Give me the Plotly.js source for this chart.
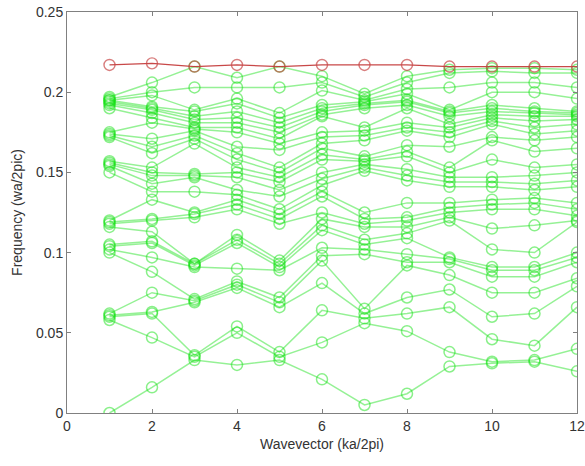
<!DOCTYPE html>
<html>
<head>
<meta charset="utf-8">
<script src="https://cdn.plot.ly/plotly-3.0.1.min.js"></script>
<style>html,body{margin:0;padding:0;background:#fff;}#chart{width:585px;height:466px;}</style>
</head>
<body>
<div id="chart"></div>
<script>
// Wavevector sample points
const kPoints = [1,2,3,4,5,6,7,8,9,10,11,12];

// Eigen-frequencies (sorted) at each wavevector point
const f_k1  = [0,0.058,0.060,0.061,0.062,0.100,0.102,0.104,0.105,0.116,0.118,0.119,0.120,0.150,0.154,0.155,0.156,0.157,0.172,0.173,0.174,0.175,0.190,0.192,0.193,0.194,0.195,0.195,0.196,0.197];
const f_k2  = [0.016,0.047,0.062,0.063,0.075,0.088,0.097,0.106,0.107,0.113,0.120,0.121,0.133,0.138,0.143,0.148,0.150,0.153,0.162,0.166,0.171,0.181,0.184,0.187,0.189,0.190,0.191,0.198,0.200,0.206];
const f_k3  = [0.033,0.035,0.036,0.069,0.070,0.071,0.091,0.092,0.093,0.093,0.122,0.124,0.125,0.138,0.147,0.148,0.149,0.168,0.171,0.173,0.176,0.177,0.178,0.181,0.183,0.185,0.188,0.189,0.203,0.216];
const f_k4  = [0.030,0.050,0.054,0.078,0.080,0.082,0.090,0.106,0.108,0.111,0.127,0.130,0.133,0.136,0.139,0.147,0.150,0.153,0.158,0.162,0.166,0.175,0.178,0.181,0.184,0.188,0.193,0.196,0.203,0.209];
const f_k5  = [0.033,0.035,0.038,0.066,0.069,0.072,0.089,0.091,0.093,0.095,0.118,0.121,0.124,0.127,0.135,0.139,0.144,0.147,0.150,0.153,0.164,0.168,0.171,0.175,0.178,0.181,0.184,0.187,0.203,0.216];
const f_k6  = [0.021,0.044,0.064,0.081,0.095,0.098,0.103,0.114,0.117,0.121,0.125,0.135,0.138,0.142,0.146,0.150,0.158,0.161,0.165,0.168,0.172,0.175,0.185,0.186,0.188,0.190,0.192,0.201,0.206,0.210];
const f_k7  = [0.005,0.056,0.059,0.062,0.065,0.099,0.102,0.105,0.108,0.116,0.118,0.121,0.125,0.151,0.153,0.155,0.157,0.158,0.160,0.170,0.173,0.176,0.178,0.190,0.192,0.193,0.194,0.195,0.197,0.199];
const f_k8  = [0.012,0.051,0.062,0.072,0.092,0.094,0.099,0.109,0.112,0.116,0.120,0.122,0.131,0.145,0.148,0.152,0.160,0.163,0.167,0.176,0.178,0.181,0.190,0.192,0.194,0.195,0.199,0.202,0.206,0.210];
const f_k9  = [0.029,0.038,0.066,0.077,0.086,0.094,0.096,0.097,0.120,0.122,0.125,0.128,0.131,0.141,0.144,0.147,0.150,0.153,0.166,0.172,0.175,0.178,0.180,0.185,0.187,0.188,0.189,0.203,0.212,0.214];
const f_k10 = [0.031,0.032,0.046,0.060,0.075,0.085,0.089,0.091,0.102,0.115,0.127,0.130,0.133,0.141,0.144,0.147,0.158,0.170,0.172,0.180,0.182,0.184,0.186,0.188,0.190,0.192,0.200,0.206,0.213,0.215];
const f_k11 = [0.032,0.033,0.042,0.062,0.075,0.085,0.089,0.091,0.100,0.117,0.127,0.131,0.134,0.139,0.143,0.148,0.153,0.163,0.170,0.174,0.178,0.182,0.185,0.187,0.188,0.190,0.200,0.206,0.212,0.215];
const f_k12 = [0.026,0.040,0.066,0.079,0.084,0.094,0.097,0.100,0.119,0.120,0.123,0.127,0.131,0.141,0.145,0.150,0.155,0.165,0.172,0.176,0.180,0.183,0.185,0.186,0.187,0.188,0.196,0.203,0.212,0.214];

// Highest (red) band
const topBand = [0.217,0.218,0.216,0.217,0.216,0.217,0.217,0.217,0.216,0.216,0.216,0.216];

const columns = [f_k1,f_k2,f_k3,f_k4,f_k5,f_k6,f_k7,f_k8,f_k9,f_k10,f_k11,f_k12];
const nBands = f_k1.length;

const traces = [];
for (let b = 0; b < nBands; b++) {
  traces.push({
    x: kPoints,
    y: columns.map(c => c[b]),
    type: 'scatter',
    mode: 'lines+markers',
    line: {color: 'rgba(20,225,20,0.45)', width: 1.5},
    marker: {symbol: 'circle-open', size: 11, color: 'rgba(20,225,20,0.5)', line: {width: 1.5}},
    hoverinfo: 'skip',
    showlegend: false
  });
}
traces.push({
  x: kPoints,
  y: topBand,
  type: 'scatter',
  mode: 'lines+markers',
  line: {color: 'rgba(190,40,40,0.85)', width: 1.2},
  marker: {symbol: 'circle-open', size: 11, color: 'rgba(200,70,70,0.7)', line: {width: 1.4}},
  showlegend: false
});

const axisCommon = {
  showgrid: false,
  zeroline: false,
  showline: true,
  linecolor: '#808080',
  linewidth: 1,
  mirror: 'ticks',
  ticks: 'inside',
  ticklen: 4,
  tickcolor: '#808080',
  tickfont: {family: 'Liberation Sans, Arial, sans-serif', size: 14, color: '#333'}
};

const layout = {
  width: 585,
  height: 466,
  margin: {l: 67, r: 8, t: 12, b: 53},
  paper_bgcolor: '#fff',
  plot_bgcolor: '#fff',
  xaxis: Object.assign({}, axisCommon, {
    range: [0, 12],
    tickvals: [0,2,4,6,8,10,12],
    title: {text: 'Wavevector (ka/2pi)', font: {family: 'Liberation Sans, Arial, sans-serif', size: 14, color: '#333'}, standoff: 6}
  }),
  yaxis: Object.assign({}, axisCommon, {
    range: [0, 0.25],
    tickvals: [0,0.05,0.1,0.15,0.2,0.25],
    ticktext: ['0','0.05','0.1','0.15','0.2','0.25'],
    title: {text: 'Frequency (wa/2pic)', font: {family: 'Liberation Sans, Arial, sans-serif', size: 14, color: '#333'}, standoff: 10}
  })
};

Plotly.newPlot('chart', traces, layout, {displayModeBar: false, staticPlot: true});
</script>
</body>
</html>
